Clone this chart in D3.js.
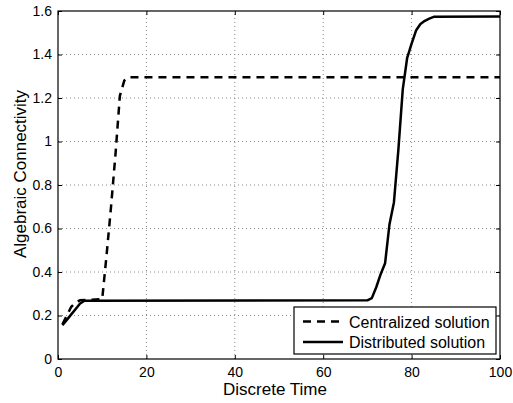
<!DOCTYPE html>
<html lang="en">
<head>
	<meta charset="UTF-8"/>
	<title>Algebraic Connectivity</title>
	<script src="https://d3js.org/d3.v7.min.js"></script>
	<style>
		body { margin: 0; background: #fff; }
		text { font-family: "Liberation Sans", Arial, sans-serif; fill: #000; }
	</style>
</head>
<body>
	<script>
		var w = 513;
		var h = 403;
		var margin = {left: 58, top: 11, right: 13, bottom: 44};

		// centralized solution (vertices of the dashed curve)
		var centralT = [1, 2, 3, 4, 5, 10, 11, 12, 13, 14, 15, 16, 100];
		var centralV = [0.16, 0.2, 0.24, 0.26, 0.27, 0.275, 0.48, 0.70, 0.94, 1.21, 1.28, 1.295, 1.295];

		// distributed solution (vertices of the solid curve)
		var distT = [1, 2, 3, 4, 5, 6, 70, 71, 72, 73, 74, 75, 76, 77, 78, 79, 80, 81, 82, 83, 84, 85, 100];
		var distV = [0.155, 0.18, 0.205, 0.23, 0.255, 0.268, 0.27, 0.28, 0.33, 0.39, 0.44, 0.62, 0.72, 0.96, 1.24, 1.385, 1.45, 1.51, 1.54, 1.555, 1.565, 1.573, 1.575];

		var xTicks = [0, 20, 40, 60, 80, 100];
		var yTicks = [0, 0.2, 0.4, 0.6, 0.8, 1, 1.2, 1.4, 1.6];
		var legendNames = ["Centralized solution", "Distributed solution"];

		var xScale = d3.scaleLinear()
						.domain([0, 100])
						.range([margin.left, w - margin.right]);

		var yScale = d3.scaleLinear()
						.domain([0, 1.6])
						.range([h - margin.bottom, margin.top]);

		var svg = d3.select("body")
					.append("svg")
					.attr("width", w)
					.attr("height", h);

		var x0 = xScale(0), x1 = xScale(100), y0 = yScale(0), y1 = yScale(1.6);

		//grid
		svg.selectAll(".vgrid")
			.data(xTicks.slice(1, -1))
			.enter()
			.append("line")
			.attr("x1", function(d){ return xScale(d); })
			.attr("x2", function(d){ return xScale(d); })
			.attr("y1", y0)
			.attr("y2", y1)
			.attr("stroke", "#888")
			.attr("stroke-width", 1)
			.attr("stroke-dasharray", "1,3");

		svg.selectAll(".hgrid")
			.data(yTicks.slice(1, -1))
			.enter()
			.append("line")
			.attr("x1", x0)
			.attr("x2", x1)
			.attr("y1", function(d){ return yScale(d); })
			.attr("y2", function(d){ return yScale(d); })
			.attr("stroke", "#888")
			.attr("stroke-width", 1)
			.attr("stroke-dasharray", "1,3");

		//axes with inward ticks
		var xAxis = d3.axisBottom(xScale).tickValues(xTicks).tickSizeInner(-4).tickSizeOuter(0).tickPadding(8);
		var yAxis = d3.axisLeft(yScale).tickValues(yTicks).tickSizeInner(-4).tickSizeOuter(0).tickPadding(6)
						.tickFormat(function(d){ return d3.format("~g")(d); });

		var gx = svg.append("g").attr("transform", "translate(0," + y0 + ")").call(xAxis);
		var gy = svg.append("g").attr("transform", "translate(" + x0 + ",0)").call(yAxis);
		var gxTop = svg.append("g").attr("transform", "translate(0," + y1 + ")")
						.call(d3.axisTop(xScale).tickValues(xTicks).tickSizeInner(-4).tickSizeOuter(0).tickFormat(""));
		var gyRight = svg.append("g").attr("transform", "translate(" + x1 + ",0)")
						.call(d3.axisRight(yScale).tickValues(yTicks).tickSizeInner(-4).tickSizeOuter(0).tickFormat(""));

		[gx, gy, gxTop, gyRight].forEach(function(g){
			g.select(".domain").remove();
			g.selectAll("line").attr("stroke", "#000");
			g.selectAll("text").style("font-family", "'Liberation Sans', Arial, sans-serif").style("font-size", "14px").attr("fill", "#000");
		});

		//box
		svg.append("rect")
			.attr("x", x0)
			.attr("y", y1)
			.attr("width", x1 - x0)
			.attr("height", y0 - y1)
			.attr("fill", "none")
			.attr("stroke", "#000")
			.attr("stroke-width", 1.2);

		var line = d3.line()
					.x(function(d){ return xScale(d[0]); })
					.y(function(d){ return yScale(d[1]); });

		svg.append("path")
			.datum(d3.zip(centralT, centralV))
			.attr("d", line)
			.attr("fill", "none")
			.attr("stroke", "#000")
			.attr("stroke-width", 2.5)
			.attr("stroke-dasharray", "8,6");

		svg.append("path")
			.datum(d3.zip(distT, distV))
			.attr("d", line)
			.attr("fill", "none")
			.attr("stroke", "#000")
			.attr("stroke-width", 2.5)
			.attr("stroke-linejoin", "round");

		//axis labels
		svg.append("text")
			.text("Discrete Time")
			.attr("x", 275)
			.attr("y", 395)
			.attr("text-anchor", "middle")
			.style("font-size", "17px");

		svg.append("text")
			.text("Algebraic Connectivity")
			.attr("transform", "translate(26,174) rotate(-90)")
			.attr("text-anchor", "middle")
			.style("font-size", "17px");

		//legend
		var legend = svg.append("g");
		legend.append("rect")
			.attr("x", 294)
			.attr("y", 307)
			.attr("width", 202)
			.attr("height", 47)
			.attr("fill", "#fff")
			.attr("stroke", "#000")
			.attr("stroke-width", 1.2);

		var rows = legend.selectAll(".row")
			.data(legendNames)
			.enter()
			.append("g")
			.attr("transform", function(d, i){ return "translate(0," + (321.5 + i * 20.5) + ")"; });

		rows.append("line")
			.attr("x1", 303)
			.attr("x2", 343)
			.attr("y1", 0)
			.attr("y2", 0)
			.attr("stroke", "#000")
			.attr("stroke-width", 2.5)
			.attr("stroke-dasharray", function(d, i){ return i === 0 ? "8,6" : null; });

		rows.append("text")
			.text(function(d){ return d; })
			.attr("x", 349)
			.attr("y", 6)
			.style("font-size", "16px");
	</script>
</body>
</html>
